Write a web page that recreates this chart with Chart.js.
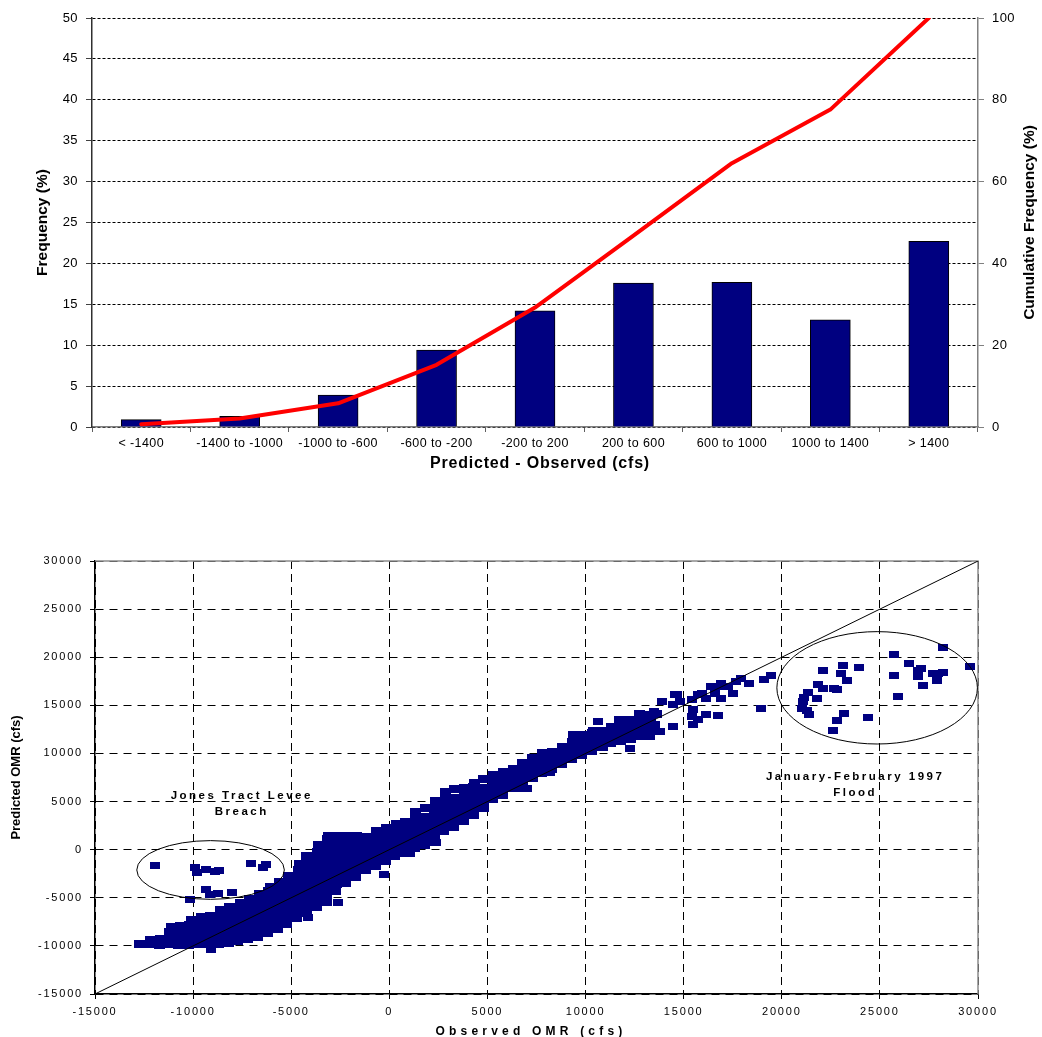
<!DOCTYPE html>
<html>
<head>
<meta charset="utf-8">
<title>OMR flow: prediction error distribution and predicted vs observed</title>
<script src="https://cdn.jsdelivr.net/npm/chart.js@4.4.1/dist/chart.umd.min.js"></script>
<style>
  html, body { margin: 0; padding: 0; background: #ffffff; }
  #page { position: relative; width: 1042px; height: 1037px; overflow: hidden; background: #fff; }
  #histBox { position: absolute; left: 0; top: 0; width: 1042px; height: 480px; }
  #scatterBox { position: absolute; left: 0; top: 545px; width: 1042px; height: 492px; }
  canvas { display: block; }
</style>
</head>
<body>
<div id="page">
  <div id="histBox"><canvas id="histCanvas" width="1042" height="480"></canvas></div>
  <div id="scatterBox"><canvas id="scatterCanvas" width="1042" height="492"></canvas></div>
</div>
<script>
// ---------- Error histogram (Predicted - Observed) ----------
const binLabels = ['< -1400', '-1400 to -1000', '-1000 to -600', '-600 to -200', '-200 to 200',
                   '200 to 600', '600 to 1000', '1000 to 1400', '> 1400'];
const frequencyPct  = [0.9, 1.3, 3.9, 9.4, 14.2, 17.6, 17.7, 13.1, 22.7];
const cumulativePct = [0.7, 2.1, 5.8, 15.2, 29.2, 46.8, 64.5, 77.6, 100];

// ---------- Predicted vs observed OMR (cfs), [observed, predicted] ----------
const clusterPoints = [
  [-12720,-9790],[-12450,-9760],
  [-12180,-9810],[-12150,-9380],[-11950,-9600],
  [-11720,-9860],[-11680,-9310],[-11480,-9580],
  [-11230,-9850],[-11170,-9220],[-11210,-8560],[-11100,-8010],
  [-10720,-9870],[-10680,-9240],[-10710,-8610],[-10650,-7910],
  [-10220,-9860],[-10180,-9190],[-10210,-8520],[-10170,-7820],[-10090,-7310],
  [-9720,-9840],[-9680,-9160],[-9700,-8460],[-9660,-7720],[-9590,-7020],
  [-9230,-9810],[-9170,-9110],[-9200,-8400],[-9160,-7660],[-9120,-6920],
  [-8720,-9760],[-8690,-9060],[-8700,-8350],[-8660,-7610],[-8680,-6900],[-8610,-6310],
  [-8220,-9660],[-8180,-8960],[-8200,-8250],[-8170,-7550],[-8190,-6810],[-8130,-5960],
  [-7720,-9500],[-7680,-8800],[-7700,-8100],[-7660,-7400],[-7690,-6660],[-7650,-5910],[-7600,-5520],
  [-7220,-9300],[-7180,-8600],[-7200,-7900],[-7170,-7200],[-7190,-6500],[-7160,-5800],[-7130,-5110],
  [-6720,-9060],[-6690,-8350],[-6700,-7650],[-6660,-6950],[-6690,-6210],[-6650,-5410],[-6620,-4560],
  [-6220,-8710],[-6180,-8000],[-6200,-7300],[-6170,-6600],[-6190,-5810],[-6160,-5000],[-6140,-4310],[-6080,-3900],
  [-5720,-8210],[-5690,-7500],[-5700,-6800],[-5660,-6060],[-5690,-5300],[-5650,-4600],[-5670,-3910],[-5610,-3310],
  [-5220,-7710],[-5180,-7000],[-5200,-6300],[-5170,-5600],[-5190,-4850],[-5160,-4100],[-5180,-3400],[-5120,-2710],
  [-4720,-7100],[-4690,-6400],[-4700,-5700],[-4660,-5000],[-4690,-4300],[-4650,-3560],[-4670,-2800],[-4640,-2100],[-4600,-1520],
  [-4220,-6600],[-4180,-5900],[-4200,-5200],[-4170,-4500],[-4190,-3800],[-4160,-3050],[-4180,-2300],[-4150,-1500],[-4240,-630],
  [-3720,-6010],[-3690,-5300],[-3700,-4600],[-3660,-3900],[-3690,-3200],[-3650,-2450],[-3670,-1700],[-3640,-950],[-3660,-200],[-3600,520],
  [-3220,-5400],[-3180,-4700],[-3200,-4000],[-3170,-3300],[-3190,-2600],[-3160,-1850],[-3180,-1100],[-3150,-350],[-3170,400],[-3130,1100],[-3080,1420],
  [-2720,-4300],[-2690,-3600],[-2700,-2900],[-2660,-2200],[-2690,-1450],[-2650,-700],[-2670,50],[-2640,800],[-2660,1460],
  [-2220,-3500],[-2180,-2800],[-2200,-2100],[-2170,-1350],[-2190,-600],[-2160,150],[-2180,900],[-2150,1470],
  [-1720,-2800],[-1690,-2100],[-1700,-1400],[-1660,-650],[-1690,100],[-1650,850],[-1670,1380],
  [-1220,-2100],[-1180,-1400],[-1200,-700],[-1170,50],[-1190,750],[-1160,1300],
  [-720,-1700],[-690,-1000],[-700,-300],[-660,450],[-690,1200],[-650,1900],
  [-220,-1200],[-180,-500],[-200,200],[-170,950],[-190,1650],[-160,2200],
  [280,-700],[320,0],[300,700],[330,1450],[310,2150],[340,2700],
  [780,-300],[820,400],[800,1100],[830,1800],[810,2400],[840,2900],
  [1280,200],[1320,900],[1300,1600],[1330,2350],[1310,3100],[1340,3900],
  [1780,520],[1820,1200],[1800,1900],[1830,2650],[1810,3400],[1840,4300],
  [2280,1300],[2320,2000],[2300,2700],[2330,3450],[2310,4200],[2340,5100],
  [2780,1900],[2820,2600],[2800,3350],[2830,4100],[2810,4850],[2840,5500],[2870,6000],
  [3280,2400],[3320,3100],[3300,3850],[3330,4600],[3310,5400],[3340,6300],
  [3780,3000],[3820,3700],[3800,4450],[3830,5200],[3810,5900],[3840,6400],
  [4280,3600],[4320,4300],[4300,5000],[4330,5750],[4310,6500],[4340,6900],
  [4780,4300],[4820,5000],[4800,5700],[4830,6400],[4810,7300],
  [5280,5300],[5320,6000],[5300,6700],[5330,7400],[5310,7800],
  [5780,5700],[5820,6400],[5800,7100],[5830,7800],[5810,8100],
  [6280,6900],[6320,7500],[6300,8100],[6330,8400],
  [6780,6900],[6820,7500],[6800,8100],[6830,8600],[6810,9000],
  [7280,7400],[7320,8000],[7300,8600],[7330,9100],[7310,9500],
  [7780,8000],[7820,8600],[7800,9200],[7830,9700],[7810,10000],
  [8280,8400],[8320,9000],[8300,9600],[8330,10100],
  [8780,8900],[8820,9500],[8800,10100],[8830,10700],
  [9280,9400],[9320,10000],[9300,10600],[9330,11200],[9370,11900],
  [9780,9800],[9820,10400],[9800,11000],[9830,11600],[9810,11900],
  [10280,10300],[10320,10900],[10300,11500],[10330,12100],[10390,12370],
  [10780,10700],[10820,11300],[10800,11800],[10830,12300],[10900,12370],
  [11280,11100],[11320,11600],[11300,12200],[11330,12800],
  [11780,11300],[11820,11900],[11800,12500],[11830,13100],[11750,13500],
  [12280,11500],[12320,12100],[12300,12700],[12330,13300],[12250,13500],
  [12780,11800],[12820,12400],[12800,13000],[12830,13600],[12760,14100],
  [13280,12000],[13320,12600],[13300,13200],[13330,13800],[13610,14130]
];
const strayPoints = [
  [-9090,-10350],[-4140,-7000],[-2610,-5440],[-250,-2550],[540,-420],[1050,-420],
  [2070,700],[2400,700],[3600,3850],[5980,6320],[6500,6320],[7000,6320],[8190,7980],
  [10900,10570],[12250,10500],[10640,13340],
  [13050,14030],[13470,14380],[13130,12650],[13550,13000],[13300,11790],[13800,12310],
  [14480,12760],[13890,15410],[14480,15070],[14650,16100],[14810,15410],[14540,16100],
  [15400,15590],[15490,14550],[15740,16100],[15910,16280],[16160,15760],[15400,13860],
  [15740,13520],[16160,14030],[15490,13000],[16750,13930],[16410,16970],[16580,16280],
  [16750,16970],[16920,17310],[16920,15760],[17260,16970],[17510,16280],[17680,17480],
  [17930,17830],[18350,17310],[18940,14720],[19110,17650],[19440,18070]
];
const breachPoints = [
  [-11950,-1670],[-9915,-1840],[-9800,-2360],[-9320,-2080],[-8900,-2290],[-8680,-2190],
  [-7030,-1420],[-6440,-1840],[-6270,-1560],[-9320,-4100],[-9120,-4620],[-8730,-4510],
  [-8000,-4440],[-10170,-5140]
];
const floodPoints = [
  [21070,15450],[21140,15830],[21360,16350],[21020,14690],[21270,14440],[21390,14000],
  [21780,15660],[21870,17190],[22120,16700],[22120,18570],[22600,12410],[22800,13400],
  [22670,16770],[22800,16670],[23000,18260],[23110,19090],[23310,17560],[23190,14130],
  [23910,18910],[24410,13720],[25700,20300],[25700,18120],[25910,15900],[26500,19370],
  [26930,18600],[27080,18810],[26960,17980],[27220,17040],[27730,18330],[27980,18330],
  [28240,18430],[27900,17560],[28200,20990],[29600,19020]
];
const oneToOne = [[-15000,-15000],[30000,30000]];

// Circled event groups and their captions (data units)
const breachEllipse = { cx: -9110, cy: -2110, rx: 3760, ry: 3050 };
const floodEllipse  = { cx: 24860, cy: 16820, rx: 5110, ry: 5840 };
const breachCaption = { x: -7520, y: 5580, lines: ['Jones Tract Levee', 'Breach'] };
const floodCaption  = { x: 23740, y: 7580, lines: ['January-February 1997', 'Flood'] };

const FONT = "'Liberation Sans', Arial, Helvetica, sans-serif";
const toXY = arr => arr.map(p => ({ x: p[0], y: p[1] }));

// ---------- Histogram chart ----------
const histDecor = {
  id: 'histDecor',
  beforeDraw(chart) { chart.ctx.letterSpacing = '0.4px'; },
  afterDraw(chart) {
    const { ctx, chartArea: a } = chart;
    const midY = (a.top + a.bottom) / 2;
    ctx.save();
    ctx.letterSpacing = '0px';
    ctx.fillStyle = '#000';
    ctx.textAlign = 'center';
    ctx.textBaseline = 'middle';
    ctx.font = 'bold 15.5px ' + FONT;
    ctx.save(); ctx.translate(43, midY); ctx.rotate(-Math.PI / 2);
    ctx.fillText('Frequency (%)', 0, 0); ctx.restore();
    ctx.save(); ctx.translate(1030, midY); ctx.rotate(-Math.PI / 2);
    ctx.fillText('Cumulative Frequency (%)', 0, 0); ctx.restore();
    ctx.font = 'bold 16px ' + FONT;
    ctx.letterSpacing = '0.8px';
    ctx.fillText('Predicted - Observed (cfs)', 540, 464);
    ctx.restore();
  }
};

new Chart(document.getElementById('histCanvas'), {
  type: 'bar',
  data: {
    labels: binLabels,
    datasets: [
      {
        type: 'line', label: 'Cumulative frequency', data: cumulativePct, yAxisID: 'y2',
        borderColor: '#ff0000', borderWidth: 4, pointRadius: 0, tension: 0, fill: false,
        borderCapStyle: 'round', borderJoinStyle: 'round'
      },
      {
        type: 'bar', label: 'Frequency', data: frequencyPct, yAxisID: 'y',
        backgroundColor: '#000080', borderColor: '#000000', borderWidth: 1, barThickness: 40
      }
    ]
  },
  options: {
    responsive: false, animation: false, devicePixelRatio: 1,
    layout: { padding: { top: 18, left: 0, right: 0, bottom: 0 } },
    plugins: { legend: { display: false }, tooltip: { enabled: false } },
    scales: {
      x: {
        type: 'category', offset: true,
        grid: { offset: true, drawOnChartArea: false, drawTicks: true, tickLength: 5,
                color: '#808080', tickColor: '#606060', tickBorderDash: [] },
        border: { color: '#808080', width: 1.5 },
        ticks: { color: '#000', font: { family: FONT, size: 12.5 }, padding: 4,
                 maxRotation: 0, minRotation: 0, autoSkip: false },
        afterFit(s) { s.height = 53; }
      },
      y: {
        position: 'left', min: 0, max: 50,
        ticks: { stepSize: 5, color: '#000', font: { family: FONT, size: 13 }, padding: 8 },
        grid: { color: '#000', lineWidth: 1, tickLength: 6, tickColor: '#404040', tickBorderDash: [] },
        border: { color: '#303030', width: 1.5, dash: [3, 2] },
        afterFit(s) { s.width = 92; }
      },
      y2: {
        position: 'right', min: 0, max: 100,
        ticks: { stepSize: 20, color: '#000', font: { family: FONT, size: 13 }, padding: 8 },
        grid: { drawOnChartArea: false, tickLength: 6, color: '#808080', tickBorderDash: [] },
        border: { color: '#808080', width: 1.5 },
        afterFit(s) { s.width = 64; }
      }
    }
  },
  plugins: [histDecor]
});

// ---------- Scatter chart ----------
// Filled navy rectangle used as the point marker
function makeMarker(w, h) {
  const c = document.createElement('canvas');
  c.width = w; c.height = h;
  const m = c.getContext('2d');
  m.fillStyle = '#000080';
  m.fillRect(0, 0, w, h);
  return c;
}
const markerSmall = makeMarker(10, 7);
const markerDense = makeMarker(11, 8);

const scatterDecor = {
  id: 'scatterDecor',
  beforeDraw(chart) { chart.ctx.letterSpacing = '1.8px'; },
  beforeDatasetsDraw(chart) {
    const { ctx, chartArea: a } = chart;
    ctx.save();
    ctx.setLineDash([]);
    ctx.strokeStyle = '#8c8c8c';
    ctx.lineWidth = 1.5;
    ctx.beginPath();
    ctx.moveTo(a.left, a.top); ctx.lineTo(a.right, a.top); ctx.lineTo(a.right, a.bottom);
    ctx.stroke();
    ctx.restore();
  },
  afterDatasetsDraw(chart) {
    const { ctx, scales: { x, y } } = chart;
    ctx.save();
    ctx.setLineDash([]);
    ctx.strokeStyle = '#000';
    ctx.lineWidth = 1;
    [breachEllipse, floodEllipse].forEach(e => {
      const cx = x.getPixelForValue(e.cx), cy = y.getPixelForValue(e.cy);
      const rx = x.getPixelForValue(e.cx + e.rx) - cx;
      const ry = cy - y.getPixelForValue(e.cy + e.ry);
      ctx.beginPath(); ctx.ellipse(cx, cy, rx, ry, 0, 0, Math.PI * 2); ctx.stroke();
    });
    ctx.fillStyle = '#000';
    ctx.textAlign = 'center';
    ctx.textBaseline = 'middle';
    ctx.font = 'bold 11.5px ' + FONT;
    ctx.letterSpacing = '2.5px';
    [breachCaption, floodCaption].forEach(c => {
      const px = x.getPixelForValue(c.x), py = y.getPixelForValue(c.y);
      c.lines.forEach((t, i) => ctx.fillText(t, px, py + i * 16));
    });
    ctx.restore();
  },
  afterDraw(chart) {
    const { ctx, chartArea: a } = chart;
    ctx.save();
    ctx.fillStyle = '#000';
    ctx.textAlign = 'center';
    ctx.textBaseline = 'middle';
    ctx.font = 'bold 12px ' + FONT;
    ctx.letterSpacing = '4.2px';
    ctx.fillText('Observed OMR (cfs)', 531, 486.5);
    ctx.letterSpacing = '0px';
    ctx.font = 'bold 13px ' + FONT;
    ctx.translate(16, (a.top + a.bottom) / 2);
    ctx.rotate(-Math.PI / 2);
    ctx.fillText('Predicted OMR (cfs)', 0, 0);
    ctx.restore();
  }
};

const pointOpts = m => ({ pointStyle: m, pointRadius: 4, pointHoverRadius: 4, showLine: false });

new Chart(document.getElementById('scatterCanvas'), {
  type: 'scatter',
  data: {
    datasets: [
      { label: '1:1', data: toXY(oneToOne), showLine: true, borderColor: '#000', borderWidth: 1,
        pointRadius: 0, fill: false },
      Object.assign({ label: 'Main', data: toXY(clusterPoints) }, pointOpts(markerDense)),
      Object.assign({ label: 'Other', data: toXY(strayPoints) }, pointOpts(markerSmall)),
      Object.assign({ label: 'Levee breach', data: toXY(breachPoints) }, pointOpts(markerSmall)),
      Object.assign({ label: 'Flood', data: toXY(floodPoints) }, pointOpts(markerSmall))
    ]
  },
  options: {
    responsive: false, animation: false, devicePixelRatio: 1,
    layout: { padding: { top: 16, left: 0, right: 64, bottom: 0 } },
    plugins: { legend: { display: false }, tooltip: { enabled: false } },
    scales: {
      x: {
        type: 'linear', min: -15000, max: 30000,
        ticks: { stepSize: 5000, color: '#000', font: { family: FONT, size: 11 }, padding: 6,
                 maxRotation: 0, callback: v => String(v) },
        grid: { color: '#000', lineWidth: 1, tickLength: 5, tickColor: '#000', tickBorderDash: [] },
        border: { color: '#000', width: 1.5, dash: [8, 5] },
        afterFit(s) { s.height = 43; }
      },
      y: {
        type: 'linear', min: -15000, max: 30000,
        ticks: { stepSize: 5000, color: '#000', font: { family: FONT, size: 11 }, padding: 7,
                 callback: v => String(v) },
        grid: { color: '#000', lineWidth: 1, tickLength: 5, tickColor: '#000', tickBorderDash: [] },
        border: { color: '#000', width: 1.5, dash: [8, 6] },
        afterFit(s) { s.width = 95; }
      }
    }
  },
  plugins: [scatterDecor]
});
</script>
</body>
</html>
